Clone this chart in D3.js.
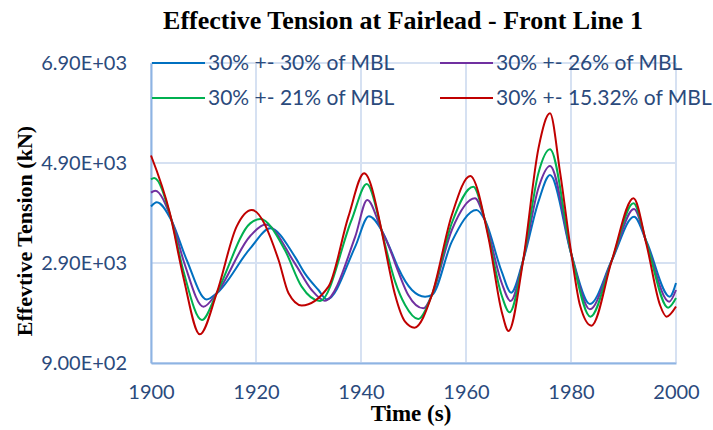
<!DOCTYPE html>
<html>
<head>
<meta charset="utf-8">
<script src="https://cdn.jsdelivr.net/npm/d3@7"></script>
<style>
  body { margin: 0; background: #fff; }
  .tick text { font-family: Lato, "Open Sans", sans-serif; font-size: 20px; fill: #2b4a7c; }
  .serif { font-family: "Liberation Serif", "Times New Roman", serif; font-weight: bold; fill: #000; }
</style>
</head>
<body>
<div id="chart"></div>
<script>
// time (s) and effective tension (kN), one pair of arrays per case
const blueT = [1900, 1901.1, 1904.0, 1906.8, 1910.6, 1912.5, 1918.9, 1922.7, 1927.4, 1929.3, 1931.9, 1933.5, 1938.9, 1941.5, 1943.9, 1945.8, 1947.1, 1949.7, 1952.2, 1953.5, 1957.3, 1962.0, 1963.6, 1966.8, 1968.6, 1970.9, 1973.8, 1976.0, 1980.1, 1983.6, 1987.8, 1992.0, 1994.4, 1998.8, 2000];
const blueV = [4030, 4114, 3727, 2960, 2170, 2293, 3193, 3593, 3027, 2693, 2360, 2173, 3227, 3837, 3560, 3127, 2800, 2360, 2227, 2260, 3327, 3960, 3760, 2727, 2307, 2960, 4127, 4660, 3060, 2080, 2960, 3827, 3327, 2227, 2500];

const purpleT = [1900, 1900.8, 1903.9, 1906.4, 1910.0, 1912.5, 1918.9, 1921.8, 1927.4, 1930.6, 1933.1, 1938.9, 1941.2, 1943.9, 1945.2, 1947.1, 1949.0, 1951.9, 1953.5, 1957.3, 1961.7, 1963.6, 1966.8, 1968.5, 1970.9, 1973.8, 1976.0, 1980.1, 1983.6, 1987.8, 1992.0, 1994.4, 1998.7, 2000];
const purpleV = [4307, 4347, 3770, 2880, 2027, 2293, 3440, 3670, 2893, 2360, 2147, 3427, 4160, 3560, 3260, 2727, 2260, 1993, 2260, 3560, 4193, 3760, 2500, 2140, 2960, 4400, 4840, 3060, 1973, 2960, 3980, 3300, 2127, 2360];

const greenT = [1900, 1900.6, 1903.8, 1906.2, 1909.7, 1912.5, 1918.9, 1920.8, 1925.5, 1928.7, 1932.2, 1938.2, 1941.1, 1943.9, 1944.6, 1946.5, 1948.4, 1950.9, 1953.5, 1957.3, 1961.4, 1963.6, 1966.8, 1968.3, 1970.9, 1973.8, 1976.0, 1980.1, 1983.7, 1987.8, 1991.9, 1994.4, 1998.5, 2000];
const greenV = [4573, 4600, 3800, 2730, 1760, 2293, 3693, 3780, 3160, 2427, 2140, 3760, 4480, 3560, 3260, 2527, 2060, 1780, 2260, 3700, 4427, 3760, 2250, 1913, 2960, 4700, 5173, 3060, 1827, 2960, 4093, 3300, 2007, 2200];

const redT = [1900, 1903.6, 1906.15, 1909.3, 1912.5, 1916.3, 1919.2, 1924.3, 1926.2, 1928.7, 1933.8, 1937.6, 1940.6, 1943.9, 1944.6, 1946.5, 1948.4, 1950.2, 1953.5, 1957.3, 1960.8, 1964.3, 1966.8, 1968.1, 1970.9, 1973.8, 1976.0, 1977.9, 1980.1, 1981.7, 1983.9, 1987.8, 1991.9, 1994.4, 1996.95, 1998.2, 2000];
const redV = [5050, 3893, 2627, 1473, 2293, 3627, 3960, 2960, 2293, 2050, 2427, 3827, 4693, 3560, 3193, 2260, 1727, 1607, 2260, 3860, 4640, 3393, 1927, 1540, 2960, 5193, 5893, 4727, 3060, 2060, 1647, 2960, 4193, 3260, 2060, 1827, 2030];

const seriesNames = ["30% +- 30% of MBL", "30% +- 26% of MBL", "30% +- 21% of MBL", "30% +- 15.32% of MBL"];
const seriesColors = ["#0070c0", "#7030a0", "#00b050", "#c00000"];
const seriesData = [[blueT, blueV], [purpleT, purpleV], [greenT, greenV], [redT, redV]];

const yTicks = [900, 2900, 4900, 6900];
const xTicks = [1900, 1920, 1940, 1960, 1980, 2000];

const margin = {top: 63, right: 37, bottom: 67, left: 151};
const width = 713 - margin.left - margin.right;
const height = 430 - margin.top - margin.bottom;

const svg = d3.select("#chart").append("svg")
  .attr("width", 713)
  .attr("height", 430);

const g = svg.append("g")
  .attr("transform", "translate(" + margin.left + "," + margin.top + ")");

const x = d3.scaleLinear().domain([1900, 2000]).range([0, width]);
const y = d3.scaleLinear().domain([900, 6900]).range([height, 0]);

// 9.00E+02 style labels
function sci(v) {
  const parts = v.toExponential(2).split("e");
  const e = parts[1];
  return parts[0] + "E" + e[0] + e.slice(1).padStart(2, "0");
}

// grid
g.append("g")
  .selectAll("line")
  .data(yTicks)
  .join("line")
  .attr("x1", 0).attr("x2", width)
  .attr("y1", d => y(d)).attr("y2", d => y(d))
  .attr("stroke", "#d6e1f2").attr("stroke-width", 2);
g.append("g")
  .selectAll("line")
  .data(xTicks)
  .join("line")
  .attr("x1", d => x(d)).attr("x2", d => x(d))
  .attr("y1", 0).attr("y2", height)
  .attr("stroke", "#d6e1f2").attr("stroke-width", 2);

// axes
const yAxis = g.append("g")
  .call(d3.axisLeft(y).tickValues(yTicks).tickFormat(sci).tickSize(0).tickPadding(24));
yAxis.select(".domain").attr("stroke", "#8eb4e3").attr("stroke-width", 2);

const xAxis = g.append("g")
  .attr("transform", "translate(0," + height + ")")
  .call(d3.axisBottom(x).tickValues(xTicks).tickFormat(d3.format("d")).tickSize(0).tickPadding(22));
xAxis.select(".domain").attr("stroke", "#8eb4e3").attr("stroke-width", 2);

// lines
const line = d3.line()
  .x(d => x(d[0]))
  .y(d => y(d[1]))
  .curve(d3.curveMonotoneX);

seriesData.forEach(function(s, i) {
  const pts = s[0].map((t, j) => [t, s[1][j]]);
  g.append("path")
    .datum(pts)
    .attr("fill", "none")
    .attr("stroke", seriesColors[i])
    .attr("stroke-width", 2)
    .attr("d", line);
});

// legend
const legendPos = [[152, 63], [440, 63], [152, 98], [440, 98]];
seriesNames.forEach(function(name, i) {
  const p = legendPos[i];
  svg.append("line")
    .attr("x1", p[0]).attr("x2", p[0] + 53)
    .attr("y1", p[1]).attr("y2", p[1])
    .attr("stroke", seriesColors[i]).attr("stroke-width", 2);
  svg.append("text")
    .attr("x", p[0] + 56).attr("y", p[1])
    .attr("dy", "0.35em")
    .style("font-family", "Lato, 'Open Sans', sans-serif")
    .style("font-size", "21px")
    .style("fill", "#2b4a7c")
    .text(name);
});

// titles
svg.append("text")
  .attr("class", "serif")
  .attr("x", 403).attr("y", 29)
  .attr("text-anchor", "middle")
  .style("font-size", "26px")
  .text("Effective Tension at Fairlead - Front Line 1");

svg.append("text")
  .attr("class", "serif")
  .attr("x", 411).attr("y", 421)
  .attr("text-anchor", "middle")
  .style("font-size", "23px")
  .text("Time (s)");

svg.append("text")
  .attr("class", "serif")
  .attr("transform", "translate(32,231) rotate(-90)")
  .attr("text-anchor", "middle")
  .style("font-size", "22px")
  .text("Effevtive Tension (kN)");
</script>
</body>
</html>
